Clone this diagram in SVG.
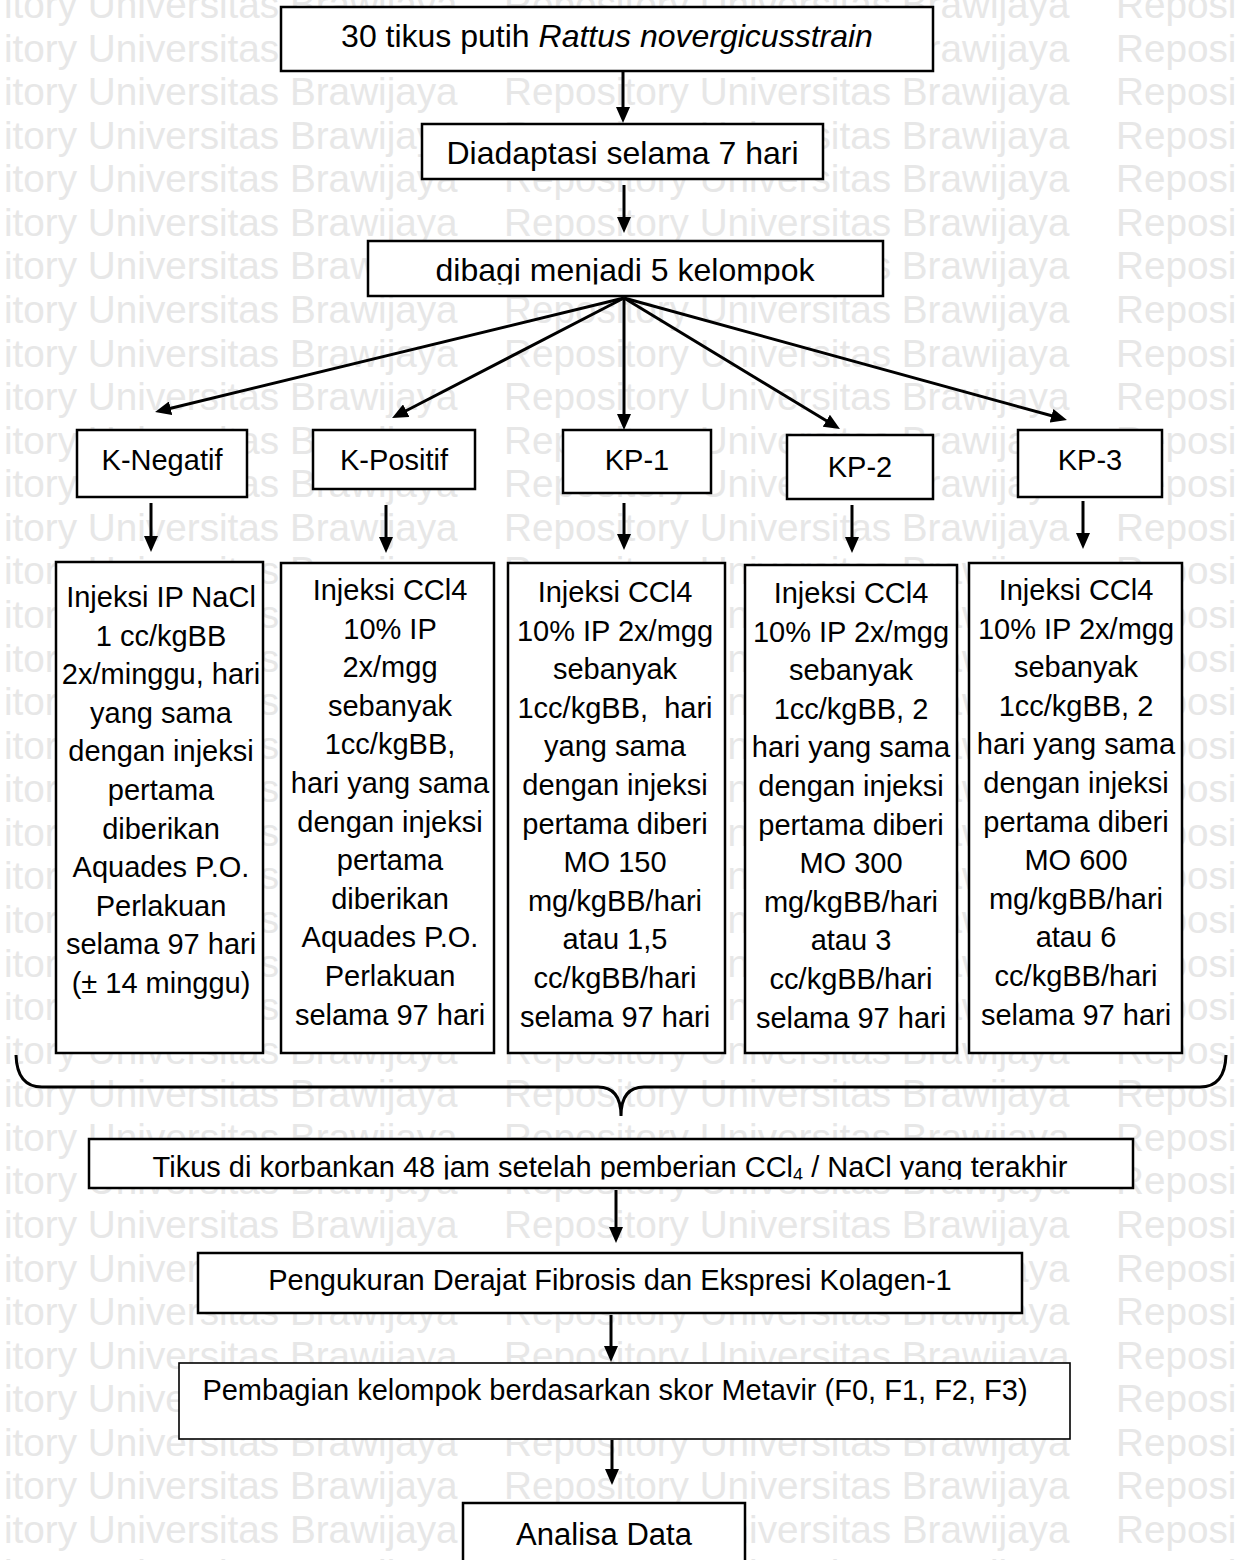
<svg xmlns="http://www.w3.org/2000/svg" width="1235" height="1560" viewBox="0 0 1235 1560">
<style>
.wm{font-family:"Liberation Sans",Arial,sans-serif;font-size:38.7px;fill:#e7e7e7}
.box{fill:#fff;stroke:#000;stroke-width:2.5}
.thin{fill:#fff;stroke:#000;stroke-width:1.6}
.t{font-family:"Liberation Sans",Arial,sans-serif;fill:#000;text-anchor:middle}
.big{font-size:32px}
.mid{font-size:29px}
.conn{stroke:#000;stroke-width:3;fill:none}
</style>
<defs>
<marker id="ah" viewBox="0 0 16 14" refX="4" refY="7" markerWidth="16" markerHeight="14" markerUnits="userSpaceOnUse" orient="auto">
<path d="M0,0 L16,7 L0,14 z" fill="#000"/>
</marker>
<clipPath id="clipDibagi"><rect x="367" y="241" width="516" height="43.5"/></clipPath>
<clipPath id="clipTikus"><rect x="89" y="1139" width="1044" height="40.5"/></clipPath>
</defs>
<rect width="1235" height="1560" fill="#fff"/>
<g id="watermark" class="wm">
<text y="18"><tspan x="4">itory Universitas Brawijaya</tspan><tspan x="504">Repository Universitas Brawijaya</tspan><tspan x="1116">Reposi</tspan></text>
<text y="61.6"><tspan x="4">itory Universitas Brawijaya</tspan><tspan x="504">Repository Universitas Brawijaya</tspan><tspan x="1116">Reposi</tspan></text>
<text y="105.1"><tspan x="4">itory Universitas Brawijaya</tspan><tspan x="504">Repository Universitas Brawijaya</tspan><tspan x="1116">Reposi</tspan></text>
<text y="148.7"><tspan x="4">itory Universitas Brawijaya</tspan><tspan x="504">Repository Universitas Brawijaya</tspan><tspan x="1116">Reposi</tspan></text>
<text y="192.3"><tspan x="4">itory Universitas Brawijaya</tspan><tspan x="504">Repository Universitas Brawijaya</tspan><tspan x="1116">Reposi</tspan></text>
<text y="235.9"><tspan x="4">itory Universitas Brawijaya</tspan><tspan x="504">Repository Universitas Brawijaya</tspan><tspan x="1116">Reposi</tspan></text>
<text y="279.4"><tspan x="4">itory Universitas Brawijaya</tspan><tspan x="504">Repository Universitas Brawijaya</tspan><tspan x="1116">Reposi</tspan></text>
<text y="323"><tspan x="4">itory Universitas Brawijaya</tspan><tspan x="504">Repository Universitas Brawijaya</tspan><tspan x="1116">Reposi</tspan></text>
<text y="366.6"><tspan x="4">itory Universitas Brawijaya</tspan><tspan x="504">Repository Universitas Brawijaya</tspan><tspan x="1116">Reposi</tspan></text>
<text y="410.1"><tspan x="4">itory Universitas Brawijaya</tspan><tspan x="504">Repository Universitas Brawijaya</tspan><tspan x="1116">Reposi</tspan></text>
<text y="453.7"><tspan x="4">itory Universitas Brawijaya</tspan><tspan x="504">Repository Universitas Brawijaya</tspan><tspan x="1116">Reposi</tspan></text>
<text y="497.3"><tspan x="4">itory Universitas Brawijaya</tspan><tspan x="504">Repository Universitas Brawijaya</tspan><tspan x="1116">Reposi</tspan></text>
<text y="540.8"><tspan x="4">itory Universitas Brawijaya</tspan><tspan x="504">Repository Universitas Brawijaya</tspan><tspan x="1116">Reposi</tspan></text>
<text y="584.4"><tspan x="4">itory Universitas Brawijaya</tspan><tspan x="504">Repository Universitas Brawijaya</tspan><tspan x="1116">Reposi</tspan></text>
<text y="628"><tspan x="4">itory Universitas Brawijaya</tspan><tspan x="504">Repository Universitas Brawijaya</tspan><tspan x="1116">Reposi</tspan></text>
<text y="671.5"><tspan x="4">itory Universitas Brawijaya</tspan><tspan x="504">Repository Universitas Brawijaya</tspan><tspan x="1116">Reposi</tspan></text>
<text y="715.1"><tspan x="4">itory Universitas Brawijaya</tspan><tspan x="504">Repository Universitas Brawijaya</tspan><tspan x="1116">Reposi</tspan></text>
<text y="758.7"><tspan x="4">itory Universitas Brawijaya</tspan><tspan x="504">Repository Universitas Brawijaya</tspan><tspan x="1116">Reposi</tspan></text>
<text y="802.3"><tspan x="4">itory Universitas Brawijaya</tspan><tspan x="504">Repository Universitas Brawijaya</tspan><tspan x="1116">Reposi</tspan></text>
<text y="845.8"><tspan x="4">itory Universitas Brawijaya</tspan><tspan x="504">Repository Universitas Brawijaya</tspan><tspan x="1116">Reposi</tspan></text>
<text y="889.4"><tspan x="4">itory Universitas Brawijaya</tspan><tspan x="504">Repository Universitas Brawijaya</tspan><tspan x="1116">Reposi</tspan></text>
<text y="933"><tspan x="4">itory Universitas Brawijaya</tspan><tspan x="504">Repository Universitas Brawijaya</tspan><tspan x="1116">Reposi</tspan></text>
<text y="976.5"><tspan x="4">itory Universitas Brawijaya</tspan><tspan x="504">Repository Universitas Brawijaya</tspan><tspan x="1116">Reposi</tspan></text>
<text y="1020.1"><tspan x="4">itory Universitas Brawijaya</tspan><tspan x="504">Repository Universitas Brawijaya</tspan><tspan x="1116">Reposi</tspan></text>
<text y="1063.7"><tspan x="4">itory Universitas Brawijaya</tspan><tspan x="504">Repository Universitas Brawijaya</tspan><tspan x="1116">Reposi</tspan></text>
<text y="1107.2"><tspan x="4">itory Universitas Brawijaya</tspan><tspan x="504">Repository Universitas Brawijaya</tspan><tspan x="1116">Reposi</tspan></text>
<text y="1150.8"><tspan x="4">itory Universitas Brawijaya</tspan><tspan x="504">Repository Universitas Brawijaya</tspan><tspan x="1116">Reposi</tspan></text>
<text y="1194.4"><tspan x="4">itory Universitas Brawijaya</tspan><tspan x="504">Repository Universitas Brawijaya</tspan><tspan x="1116">Reposi</tspan></text>
<text y="1238"><tspan x="4">itory Universitas Brawijaya</tspan><tspan x="504">Repository Universitas Brawijaya</tspan><tspan x="1116">Reposi</tspan></text>
<text y="1281.5"><tspan x="4">itory Universitas Brawijaya</tspan><tspan x="504">Repository Universitas Brawijaya</tspan><tspan x="1116">Reposi</tspan></text>
<text y="1325.1"><tspan x="4">itory Universitas Brawijaya</tspan><tspan x="504">Repository Universitas Brawijaya</tspan><tspan x="1116">Reposi</tspan></text>
<text y="1368.7"><tspan x="4">itory Universitas Brawijaya</tspan><tspan x="504">Repository Universitas Brawijaya</tspan><tspan x="1116">Reposi</tspan></text>
<text y="1412.2"><tspan x="4">itory Universitas Brawijaya</tspan><tspan x="504">Repository Universitas Brawijaya</tspan><tspan x="1116">Reposi</tspan></text>
<text y="1455.8"><tspan x="4">itory Universitas Brawijaya</tspan><tspan x="504">Repository Universitas Brawijaya</tspan><tspan x="1116">Reposi</tspan></text>
<text y="1499.4"><tspan x="4">itory Universitas Brawijaya</tspan><tspan x="504">Repository Universitas Brawijaya</tspan><tspan x="1116">Reposi</tspan></text>
<text y="1542.9"><tspan x="4">itory Universitas Brawijaya</tspan><tspan x="504">Repository Universitas Brawijaya</tspan><tspan x="1116">Reposi</tspan></text>
<text y="1586.5"><tspan x="4">itory Universitas Brawijaya</tspan><tspan x="504">Repository Universitas Brawijaya</tspan><tspan x="1116">Reposi</tspan></text>
</g>
<g id="connectors" class="conn">
<line x1="623" y1="71" x2="623" y2="111" marker-end="url(#ah)"/>
<line x1="624" y1="185" x2="624" y2="221" marker-end="url(#ah)"/>
<line x1="624" y1="298" x2="166.7" y2="409.2" marker-end="url(#ah)"/>
<line x1="624" y1="298" x2="402.7" y2="412.5" marker-end="url(#ah)"/>
<line x1="624" y1="298" x2="624" y2="418" marker-end="url(#ah)"/>
<line x1="624" y1="298" x2="829.7" y2="422.8" marker-end="url(#ah)"/>
<line x1="624" y1="298" x2="1055.4" y2="416.8" marker-end="url(#ah)"/>
<line x1="151" y1="503" x2="151" y2="540" marker-end="url(#ah)"/>
<line x1="386" y1="505" x2="386" y2="541" marker-end="url(#ah)"/>
<line x1="624" y1="503" x2="624" y2="538" marker-end="url(#ah)"/>
<line x1="852" y1="505" x2="852" y2="541" marker-end="url(#ah)"/>
<line x1="1083" y1="501" x2="1083" y2="537" marker-end="url(#ah)"/>
<path d="M16,1055 Q17,1087 42,1087 L598,1087 Q621,1087 621,1116 Q621,1087 644,1087 L1200,1087 Q1225,1087 1226,1055"/>
<line x1="616" y1="1190" x2="616" y2="1231" marker-end="url(#ah)"/>
<line x1="611" y1="1315" x2="611" y2="1350" marker-end="url(#ah)"/>
<line x1="612" y1="1440" x2="612" y2="1473" marker-end="url(#ah)"/>
</g>
<g id="n-start">
<rect class="box" x="281" y="7" width="652" height="64"/>
<text class="t big" x="607" y="47">30 tikus putih <tspan font-style="italic">Rattus novergicusstrain</tspan></text>
</g>
<g id="n-adapt">
<rect class="box" x="422" y="124" width="401" height="55"/>
<text class="t big" x="622.5" y="164">Diadaptasi selama 7 hari</text>
</g>
<g id="n-split">
<rect class="box" x="368" y="241" width="515" height="55"/>
<text class="t big" x="625" y="281" clip-path="url(#clipDibagi)">dibagi menjadi 5 kelompok</text>
</g>
<g id="n-kneg">
<rect class="box" x="77" y="430" width="170" height="67"/>
<text class="t mid" x="162" y="470">K-Negatif</text>
</g>
<g id="n-kpos">
<rect class="box" x="313" y="430" width="162" height="59"/>
<text class="t mid" x="394" y="470">K-Positif</text>
</g>
<g id="n-kp1">
<rect class="box" x="563" y="430" width="148" height="63"/>
<text class="t mid" x="637" y="470">KP-1</text>
</g>
<g id="n-kp2">
<rect class="box" x="787" y="435" width="146" height="64"/>
<text class="t mid" x="860" y="477">KP-2</text>
</g>
<g id="n-kp3">
<rect class="box" x="1018" y="430" width="144" height="67"/>
<text class="t mid" x="1090" y="470">KP-3</text>
</g>
<g id="n-d1">
<rect class="box" x="56" y="562" width="207" height="491"/>
<text class="t mid" y="607"><tspan x="161">Injeksi IP NaCl</tspan><tspan x="161" dy="38.6">1 cc/kgBB</tspan><tspan x="161" dy="38.6">2x/minggu, hari</tspan><tspan x="161" dy="38.6">yang sama</tspan><tspan x="161" dy="38.6">dengan injeksi</tspan><tspan x="161" dy="38.6">pertama</tspan><tspan x="161" dy="38.6">diberikan</tspan><tspan x="161" dy="38.6">Aquades P.O.</tspan><tspan x="161" dy="38.6">Perlakuan</tspan><tspan x="161" dy="38.6">selama 97 hari</tspan><tspan x="161" dy="38.6">(± 14 minggu)</tspan></text>
</g>
<g id="n-d2">
<rect class="box" x="281" y="563" width="213" height="490"/>
<text class="t mid" y="600"><tspan x="390">Injeksi CCl4</tspan><tspan x="390" dy="38.6">10% IP</tspan><tspan x="390" dy="38.6">2x/mgg</tspan><tspan x="390" dy="38.6">sebanyak</tspan><tspan x="390" dy="38.6">1cc/kgBB,</tspan><tspan x="390" dy="38.6">hari yang sama</tspan><tspan x="390" dy="38.6">dengan injeksi</tspan><tspan x="390" dy="38.6">pertama</tspan><tspan x="390" dy="38.6">diberikan</tspan><tspan x="390" dy="38.6">Aquades P.O.</tspan><tspan x="390" dy="38.6">Perlakuan</tspan><tspan x="390" dy="38.6">selama 97 hari</tspan></text>
</g>
<g id="n-d3">
<rect class="box" x="508" y="563" width="217" height="490"/>
<text class="t mid" y="602"><tspan x="615">Injeksi CCl4</tspan><tspan x="615" dy="38.6">10% IP 2x/mgg</tspan><tspan x="615" dy="38.6">sebanyak</tspan><tspan x="615" dy="38.6">1cc/kgBB,&#160; hari</tspan><tspan x="615" dy="38.6">yang sama</tspan><tspan x="615" dy="38.6">dengan injeksi</tspan><tspan x="615" dy="38.6">pertama diberi</tspan><tspan x="615" dy="38.6">MO 150</tspan><tspan x="615" dy="38.6">mg/kgBB/hari</tspan><tspan x="615" dy="38.6">atau 1,5</tspan><tspan x="615" dy="38.6">cc/kgBB/hari</tspan><tspan x="615" dy="38.6">selama 97 hari</tspan></text>
</g>
<g id="n-d4">
<rect class="box" x="745" y="565" width="212" height="488"/>
<text class="t mid" y="603"><tspan x="851">Injeksi CCl4</tspan><tspan x="851" dy="38.6">10% IP 2x/mgg</tspan><tspan x="851" dy="38.6">sebanyak</tspan><tspan x="851" dy="38.6">1cc/kgBB, 2</tspan><tspan x="851" dy="38.6">hari yang sama</tspan><tspan x="851" dy="38.6">dengan injeksi</tspan><tspan x="851" dy="38.6">pertama diberi</tspan><tspan x="851" dy="38.6">MO 300</tspan><tspan x="851" dy="38.6">mg/kgBB/hari</tspan><tspan x="851" dy="38.6">atau 3</tspan><tspan x="851" dy="38.6">cc/kgBB/hari</tspan><tspan x="851" dy="38.6">selama 97 hari</tspan></text>
</g>
<g id="n-d5">
<rect class="box" x="969" y="563" width="213" height="490"/>
<text class="t mid" y="600"><tspan x="1076">Injeksi CCl4</tspan><tspan x="1076" dy="38.6">10% IP 2x/mgg</tspan><tspan x="1076" dy="38.6">sebanyak</tspan><tspan x="1076" dy="38.6">1cc/kgBB, 2</tspan><tspan x="1076" dy="38.6">hari yang sama</tspan><tspan x="1076" dy="38.6">dengan injeksi</tspan><tspan x="1076" dy="38.6">pertama diberi</tspan><tspan x="1076" dy="38.6">MO 600</tspan><tspan x="1076" dy="38.6">mg/kgBB/hari</tspan><tspan x="1076" dy="38.6">atau 6</tspan><tspan x="1076" dy="38.6">cc/kgBB/hari</tspan><tspan x="1076" dy="38.6">selama 97 hari</tspan></text>
</g>
<g id="n-sacrifice">
<rect class="box" x="89" y="1139" width="1044" height="49"/>
<text class="t mid" x="610" y="1177" clip-path="url(#clipTikus)">Tikus di korbankan 48 jam setelah pemberian CCl<tspan font-size="18px" dy="4">4</tspan><tspan dy="-4"> / NaCl yang terakhir</tspan></text>
</g>
<g id="n-measure">
<rect class="box" x="198" y="1253" width="824" height="60"/>
<text class="t mid" x="610" y="1290">Pengukuran Derajat Fibrosis dan Ekspresi Kolagen-1</text>
</g>
<g id="n-group">
<rect class="thin" x="179" y="1363" width="891" height="76"/>
<text class="t mid" x="615" y="1400">Pembagian kelompok berdasarkan skor Metavir (F0, F1, F2, F3)</text>
</g>
<g id="n-analysis">
<rect class="box" x="463" y="1503" width="282" height="80"/>
<text class="t" font-size="31px" x="604" y="1545">Analisa Data</text>
</g>
</svg>
